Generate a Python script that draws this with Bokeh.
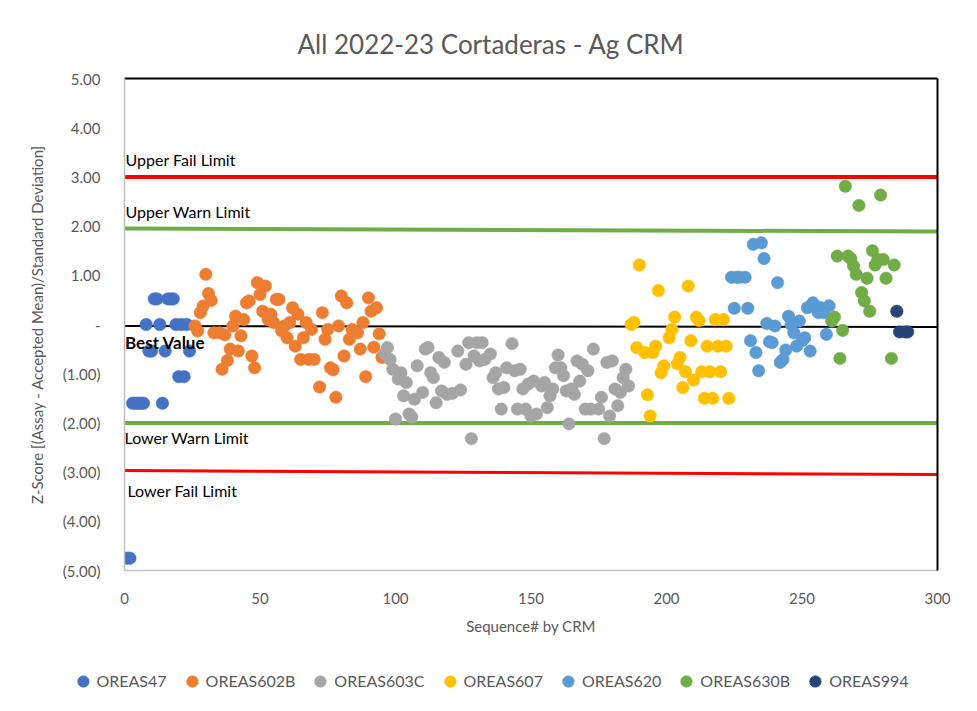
from bokeh.plotting import figure
from bokeh.layouts import column
from bokeh.models import (Range1d, FixedTicker, LinearAxis, Label, Legend, LegendItem)
from bokeh.embed import file_html
from bokeh.resources import INLINE

TITLE = "All 2022-23 Cortaderas - Ag CRM"
X_LABEL = "Sequence# by CRM"
Y_LABEL = "Z-Score [(Assay - Accepted Mean)/Standard Deviation]"

x_ticks = [0, 50, 100, 150, 200, 250, 300]
y_ticks = [5, 4, 3, 2, 1, 0, -1, -2, -3, -4, -5]
y_tick_labels = ["5.00", "4.00", "3.00", "2.00", "1.00", "-", "(1.00)", "(2.00)",
                 "(3.00)", "(4.00)", "(5.00)"]

series_names = ["OREAS47", "OREAS602B", "OREAS603C", "OREAS607", "OREAS620", "OREAS630B", "OREAS994"]
series_colors = ["#4472C4", "#ED7D31", "#A5A5A5", "#FFC000", "#5B9BD5", "#70AD47", "#264478"]

oreas47_x = [1, 2, 3, 4, 5, 6, 7, 8, 9, 10, 11, 12, 13, 14, 15, 16, 17, 18, 19, 20, 21, 22, 23, 24]
oreas47_y = [-4.75, -4.75, -1.6, -1.6, -1.6, -1.6, -1.6, 0.0, -0.54, -0.54, 0.52, 0.52, 0.0, -1.6,
             -0.54, 0.52, 0.52, 0.52, 0.0, -1.06, 0.0, -1.06, 0.0, -0.54]

oreas602b_x = [26, 27, 28, 29, 30, 31, 32, 33, 35, 36, 37, 38, 39, 40, 41, 42, 43, 44, 45, 46, 47, 48,
               49, 50, 51, 52, 53, 54, 55, 56, 57, 58, 59, 60, 61, 62, 63, 64, 65, 66, 67, 68, 69, 70,
               72, 73, 74, 75, 76, 77, 78, 79, 80, 81, 82, 83, 84, 86, 87, 88, 89, 90, 91, 92, 93, 94, 95]
oreas602b_y = [-0.03, -0.13, 0.24, 0.375, 1.02, 0.63, 0.49, -0.17, -0.17, -0.91, -0.21, -0.73, -0.5,
               -0.03, 0.17, -0.54, -0.23, 0.1, 0.44, 0.48, -0.64, -0.88, 0.85, 0.61, 0.27, 0.78, 0.1,
               0.21, 0.04, 0.51, 0.51, -0.13, -0.03, -0.27, 0.04, 0.34, -0.44, 0.21, -0.71, -0.27, 0.04,
               -0.71, -0.1, -0.71, -1.27, 0.24, -0.3, -0.1, -0.88, -0.92, -1.48, -0.03, 0.58, -0.64,
               0.44, -0.3, -0.1, -0.17, -0.5, 0.04, -1.06, 0.54, 0.27, -0.46, 0.34, -0.19, -0.67]

oreas603c_x = [96, 97, 98, 99, 100, 101, 102, 103, 104, 105, 106, 107, 108, 110, 111, 112, 113, 114,
               115, 116, 117, 118, 119, 121, 123, 124, 126, 127, 128, 129, 130, 131, 132, 133, 135,
               136, 137, 138, 139, 140, 141, 143, 144, 145, 146, 147, 148, 149, 150, 151, 152, 154,
               155, 156, 157, 158, 159, 160, 161, 162, 163, 164, 165, 166, 167, 168, 169, 170, 171,
               172, 173, 175, 176, 177, 178, 179, 180, 181, 182, 183, 184, 185, 186]
oreas603c_y = [-0.6, -0.47, -0.71, -0.91, -1.92, -1.11, -0.98, -1.45, -1.18, -1.82, -1.88, -1.52,
               -0.84, -1.38, -0.5, -0.47, -0.98, -1.08, -1.59, -0.67, -1.35, -0.77, -1.42, -1.4,
               -0.54, -1.33, -0.81, -0.37, -2.32, -0.64, -0.37, -0.74, -0.37, -0.71, -0.6, -1.08,
               -0.98, -1.31, -1.72, -1.28, -0.88, -0.39, -0.94, -1.72, -0.91, -1.31, -1.72, -1.21,
               -1.86, -1.15, -1.82, -1.25, -1.18, -1.69, -1.45, -1.31, -0.88, -0.62, -0.88, -1.04,
               -1.35, -2.02, -1.31, -1.42, -0.74, -1.15, -0.81, -1.72, -0.94, -1.72, -0.5, -1.72,
               -1.48, -2.32, -0.77, -1.86, -0.74, -1.31, -1.65, -1.38, -1.08, -0.91, -1.25]

oreas607_x = [187, 188, 189, 190, 192, 193, 194, 195, 196, 197, 198, 199, 201, 202, 203, 204, 205,
              206, 207, 208, 209, 210, 211, 212, 213, 214, 215, 216, 217, 218, 219, 220, 221, 222, 223]
oreas607_y = [0.0, 0.04, -0.47, 1.21, -0.57, -1.43, -1.86, -0.57, -0.44, 0.69, -0.98, -0.84, -0.27,
              -0.1, 0.15, -0.8, -0.67, -1.28, -0.96, 0.78, -0.33, -1.13, 0.15, 0.08, -0.96, -1.5,
              -0.44, -0.96, -1.5, 0.1, -0.44, -0.96, 0.1, -0.44, -1.5]

oreas620_x = [224, 225, 226, 227, 229, 230, 231, 232, 233, 234, 235, 236, 237, 238, 239, 240, 241,
              242, 243, 244, 245, 246, 247, 248, 249, 250, 251, 252, 253, 254, 255, 256, 257, 258,
              259, 260]
oreas620_y = [0.96, 0.33, 0.96, 0.96, 0.96, 0.33, -0.33, 1.63, -0.57, -0.94, 1.66, 1.34, 0.02,
              -0.35, -0.37, -0.03, 0.85, -0.77, -0.71, -0.52, 0.17, 0.0, -0.17, -0.44, 0.07, -0.33,
              -0.27, 0.34, -0.54, 0.44, 0.38, 0.24, 0.34, 0.24, -0.2, 0.38]

oreas630b_x = [261, 262, 263, 264, 265, 266, 267, 268, 269, 270, 271, 272, 273, 274, 275, 276, 277,
               278, 279, 280, 281, 283, 284]
oreas630b_y = [0.07, 0.15, 1.39, -0.69, -0.12, 2.81, 1.39, 1.34, 1.19, 1.02, 2.42, 0.65, 0.48, 0.94,
               0.27, 1.5, 1.21, 1.32, 2.63, 1.32, 0.94, -0.69, 1.21]

oreas994_x = [285, 286, 288, 289]
oreas994_y = [0.27, -0.15, -0.15, -0.15]

limit_x = [0, 300]
upper_fail = [3.0, 3.0]
upper_warn = [1.95, 1.89]
best_value = [-0.03, -0.05]
lower_warn = [-2.0, -2.0]
lower_fail = [-2.97, -3.05]

FONT = "Lato"
GREY_TXT = "#595959"
W = 977
MAIN_H = 650
LEG_H = 61

p = figure(width=W, height=MAIN_H, output_backend="svg", toolbar_location=None,
           x_range=Range1d(0, 300), y_range=Range1d(-5, 5),
           min_border_left=124, min_border_right=40, min_border_top=78, min_border_bottom=80)
p.frame_align = False
p.grid.visible = False
p.outline_line_color = None
p.background_fill_color = "white"
p.border_fill_color = "white"

p.title.text = TITLE
p.title.align = "left"
p.title.offset = 173
p.title.text_font = FONT
p.title.text_font_size = "26px"
p.title.text_font_style = "normal"
p.title.text_color = GREY_TXT
p.title.standoff = 37

# axes
xa = p.xaxis[0]
xa.ticker = FixedTicker(ticks=x_ticks)
ya = p.yaxis[0]
ya.ticker = FixedTicker(ticks=y_ticks)
ya.major_label_overrides = {t: l for t, l in zip(y_ticks, y_tick_labels)}
for ax in (xa, ya):
    ax.axis_line_color = "#BFBFBF"
    ax.axis_line_width = 1.5
    ax.major_tick_line_color = None
    ax.minor_tick_line_color = None
    ax.major_label_text_font = FONT
    ax.major_label_text_font_size = "15px"
    ax.major_label_text_color = GREY_TXT
    ax.axis_label_text_font = FONT
    ax.axis_label_text_font_size = "15px"
    ax.axis_label_text_color = GREY_TXT
    ax.axis_label_text_font_style = "normal"
xa.axis_label = X_LABEL
ya.axis_label = Y_LABEL
xa.major_label_standoff = 16
ya.major_label_standoff = 18
xa.axis_label_standoff = 10
ya.axis_label_standoff = 14

for side in ("right", "above"):
    ax = LinearAxis(ticker=FixedTicker(ticks=[]), axis_line_color="black", axis_line_width=2,
                    major_tick_line_color=None, minor_tick_line_color=None,
                    major_tick_out=0, major_label_standoff=0,
                    major_label_text_font_size="0px")
    p.add_layout(ax, side)

# limit lines
p.line(limit_x, upper_fail, line_color="#FF0000", line_width=4)
p.line(limit_x, upper_warn, line_color="#70AD47", line_width=4)
p.line(limit_x, lower_warn, line_color="#70AD47", line_width=4)
p.line(limit_x, lower_fail, line_color="#FF0000", line_width=3)
p.line(limit_x, best_value, line_color="black", line_width=2)

all_x = [oreas47_x, oreas602b_x, oreas603c_x, oreas607_x, oreas620_x, oreas630b_x, oreas994_x]
all_y = [oreas47_y, oreas602b_y, oreas603c_y, oreas607_y, oreas620_y, oreas630b_y, oreas994_y]
for name, col, xs, ys in zip(series_names, series_colors, all_x, all_y):
    p.scatter(xs, ys, size=12.5, fill_color=col, line_color=col, line_width=0.5)

# text labels
def lab(x, y, t, bold=False, size="16px", color="black", align="left"):
    p.add_layout(Label(x=x, y=y, text=t, text_font=FONT, text_font_size=size,
                       text_color=color, text_align=align, text_baseline="middle",
                       text_font_style="bold" if bold else "normal"))

lab(0.4, 3.36, "Upper Fail Limit")
lab(0.4, 2.30, "Upper Warn Limit")
lab(0.2, -0.37, "Best Value", bold=True, size="17px")
lab(0.0, -2.30, "Lower Warn Limit")
lab(1.1, -3.38, "Lower Fail Limit")

# legend strip below the chart (its renderers share the series data but the view range hides them)
lg = figure(width=W, height=LEG_H, output_backend="svg", toolbar_location=None,
            x_axis_location=None, y_axis_location=None,
            x_range=Range1d(1000, 1001), y_range=Range1d(1000, 1001),
            min_border_left=0, min_border_right=0, min_border_top=0, min_border_bottom=0)
lg.frame_align = False
lg.grid.visible = False
lg.outline_line_color = None
items = []
for name, col, xs, ys in zip(series_names, series_colors, all_x, all_y):
    r = lg.scatter(xs, ys, size=12, fill_color=col, line_color=col)
    items.append(LegendItem(label=name, renderers=[r]))
legend = Legend(items=items, orientation="horizontal", location="center",
                label_text_font=FONT, label_text_font_size="16px", label_text_color=GREY_TXT,
                glyph_width=28, glyph_height=28, label_standoff=0, spacing=11,
                border_line_color=None, background_fill_alpha=0, padding=0, margin=0)
lg.add_layout(legend, "center")

layout = column(p, lg, spacing=0)
open("out.html", "w").write(file_html(layout, INLINE))
